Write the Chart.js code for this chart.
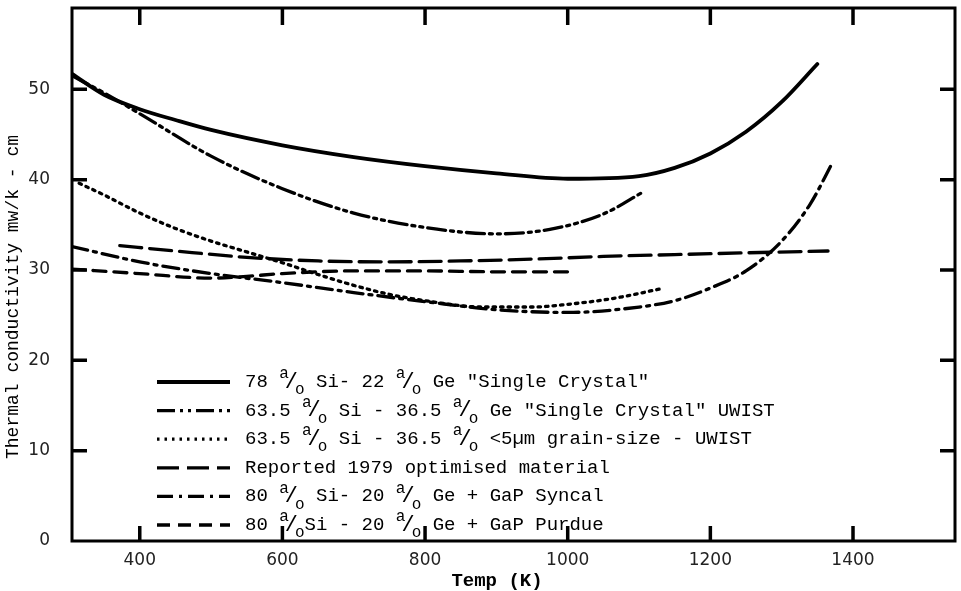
<!DOCTYPE html>
<html>
<head>
<meta charset="utf-8">
<script src="https://cdn.jsdelivr.net/npm/chart.js@4.4.0/dist/chart.umd.min.js"></script>
<style>
  html, body { margin: 0; padding: 0; background: #fff; }
</style>
</head>
<body>
<canvas id="kondChart" width="961" height="591"></canvas>
<script>
// tick labels
const xTicks = [400, 600, 800, 1000, 1200, 1400];
const yTicks = [0, 10, 20, 30, 40, 50];

const xTitle = 'Temp (K)';
const yTitle = 'Thermal conductivity mw/k - cm';

const seriesNames = [
    '78 ᵃ/ₒ Si- 22 ᵃ/ₒ Ge "Single Crystal"',
    '63.5 ᵃ/ₒ Si - 36.5 ᵃ/ₒ Ge "Single Crystal" UWIST',
    '63.5 ᵃ/ₒ Si - 36.5 ᵃ/ₒ <5µm grain-size - UWIST',
    'Reported 1979 optimised material',
    '80 ᵃ/ₒ Si- 20 ᵃ/ₒ Ge + GaP Syncal',
    '80 ᵃ/ₒSi - 20 ᵃ/ₒ Ge + GaP Purdue'
];

// Temp (K) and thermal conductivity (mW/K-cm)
const tempSC78 = [305, 350, 400, 450, 500, 600, 700, 800, 900, 1000, 1100, 1150, 1200, 1250, 1300, 1350];
const kSC78 = [51.7, 49.4, 47.8, 46.6, 45.5, 43.8, 42.5, 41.5, 40.7, 40.1, 40.4, 41.3, 42.9, 45.3, 48.6, 52.8];

const tempSC635 = [305, 350, 400, 500, 600, 700, 800, 900, 975, 1050, 1105];
const kSC635 = [51.5, 49.6, 47.3, 42.6, 39.0, 36.3, 34.7, 34.0, 34.5, 36.2, 38.6];

const tempGrain = [315, 350, 400, 450, 500, 550, 600, 650, 700, 750, 800, 880, 950, 1000, 1060, 1130];
const kGrain = [39.6, 38.3, 36.3, 34.6, 33.2, 32.0, 30.8, 29.5, 28.3, 27.3, 26.6, 25.9, 25.9, 26.2, 26.8, 27.9];

const tempRep1979 = [372, 450, 550, 650, 750, 850, 950, 1050, 1150, 1250, 1365];
const kRep1979 = [32.7, 32.1, 31.4, 31.0, 30.9, 31.0, 31.2, 31.5, 31.7, 31.9, 32.1];

const tempSyncal = [305, 400, 500, 600, 700, 800, 900, 1000, 1100, 1150, 1200, 1250, 1300, 1340, 1372];
const kSyncal = [32.6, 30.9, 29.6, 28.6, 27.5, 26.5, 25.6, 25.3, 25.9, 26.6, 28.0, 29.9, 33.2, 37.3, 42.0];

const tempPurdue = [305, 400, 500, 550, 600, 700, 800, 900, 1007];
const kPurdue = [30.1, 29.6, 29.1, 29.3, 29.6, 29.9, 29.9, 29.8, 29.8];

function noktalar(t, k) {
    return t.map((v, i) => ({ x: v, y: k[i] }));
}

const cizgiler = [
    { t: tempSC78, k: kSC78, dash: [], w: 3.8 },
    { t: tempSC635, k: kSC635, dash: [18, 5, 3, 5, 3, 5], w: 3.3 },
    { t: tempGrain, k: kGrain, dash: [2.5, 5], w: 3.3 },
    { t: tempRep1979, k: kRep1979, dash: [22, 8], w: 3.3 },
    { t: tempSyncal, k: kSyncal, dash: [16, 6, 3, 6], w: 3.3 },
    { t: tempPurdue, k: kPurdue, dash: [13, 8], w: 3.3 }
];

const typeFont = '"Liberation Mono", "DejaVu Sans Mono", monospace';
const numFont = '"DejaVu Sans", "Liberation Sans", sans-serif';

// frame + inward tick marks + axis titles
const cerceve = {
    id: 'cerceve',
    afterDatasetsDraw(chart) {
        const { ctx, chartArea: a, scales } = chart;
        const x = scales.x, y = scales.y;
        ctx.save();
        ctx.strokeStyle = '#000';
        ctx.lineWidth = 3;
        ctx.strokeRect(a.left, a.top, a.right - a.left, a.bottom - a.top);
        ctx.lineWidth = 3.5;
        ctx.beginPath();
        xTicks.forEach(v => {
            const px = x.getPixelForValue(v);
            ctx.moveTo(px, a.top); ctx.lineTo(px, a.top + 17);
            ctx.moveTo(px, a.bottom); ctx.lineTo(px, a.bottom - 15);
        });
        yTicks.forEach(v => {
            if (v === 0) return;
            const py = y.getPixelForValue(v);
            ctx.moveTo(a.left, py); ctx.lineTo(a.left + 15, py);
            ctx.moveTo(a.right, py); ctx.lineTo(a.right - 15, py);
        });
        ctx.stroke();

        // axis titles (typewriter style, placed like the original)
        ctx.fillStyle = '#000';
        ctx.textAlign = 'center';
        ctx.textBaseline = 'middle';
        ctx.font = 'bold 19px ' + typeFont;
        ctx.fillText(xTitle, 497, 581);
        ctx.translate(13, 297);
        ctx.rotate(-Math.PI / 2);
        ctx.font = '18px ' + typeFont;
        ctx.fillText(yTitle, 0, 0);
        ctx.restore();
    }
};

// legend inside the plot, a/o drawn as raised a, slash, lowered o
const icLegend = {
    id: 'icLegend',
    afterDraw(chart) {
        const ctx = chart.ctx;
        const x0 = 157, x1 = 230, tx = 245, y0 = 382, gap = 28.6;
        ctx.save();
        chart.data.datasets.forEach((ds, i) => {
            const yy = y0 + i * gap;
            ctx.strokeStyle = '#000';
            ctx.lineWidth = ds.borderWidth;
            ctx.setLineDash(ds.borderDash || []);
            ctx.beginPath();
            ctx.moveTo(x0, yy); ctx.lineTo(x1, yy);
            ctx.stroke();
            ctx.setLineDash([]);

            ctx.fillStyle = '#000';
            ctx.textBaseline = 'middle';
            let cx = tx;
            const parcalar = ds.label.split('ᵃ/ₒ');
            parcalar.forEach((p, j) => {
                ctx.font = '19px ' + typeFont;
                ctx.fillText(p, cx, yy);
                cx += ctx.measureText(p).width;
                if (j < parcalar.length - 1) {
                    ctx.font = '16px ' + typeFont;
                    ctx.fillText('a', cx, yy - 8);
                    cx += ctx.measureText('a').width - 1;
                    ctx.font = '22px ' + typeFont;
                    ctx.fillText('/', cx - 3, yy);
                    cx += ctx.measureText('/').width - 6;
                    ctx.font = '16px ' + typeFont;
                    ctx.fillText('o', cx, yy + 8);
                    cx += ctx.measureText('o').width;
                }
            });
        });
        ctx.restore();
    }
};

new Chart(document.getElementById('kondChart').getContext('2d'), {
    type: 'line',
    data: {
        datasets: cizgiler.map((c, i) => ({
            label: seriesNames[i],
            data: noktalar(c.t, c.k),
            borderColor: '#000',
            borderWidth: c.w,
            borderDash: c.dash,
            borderCapStyle: 'round',
            pointRadius: 0,
            fill: false,
            cubicInterpolationMode: 'monotone'
        }))
    },
    options: {
        responsive: false,
        animation: false,
        devicePixelRatio: 1,
        layout: { padding: { left: 0, right: 6, top: 8, bottom: 0 } },
        plugins: { legend: { display: false }, tooltip: { enabled: false } },
        scales: {
            x: {
                type: 'linear',
                min: 305,
                max: 1543,
                grid: { display: false, drawTicks: false },
                border: { display: false },
                afterFit: s => { s.height = 50; s.paddingLeft = 0; s.paddingRight = 0; },
                afterBuildTicks: s => { s.ticks = xTicks.map(v => ({ value: v })); },
                ticks: { color: '#222', padding: 9, font: { family: numFont, size: 17 }, callback: v => String(v) },
                title: { display: false, text: xTitle }
            },
            y: {
                min: 0,
                max: 59,
                grid: { display: false, drawTicks: false },
                border: { display: false },
                afterFit: s => { s.width = 72; s.paddingTop = 0; s.paddingBottom = 0; },
                afterBuildTicks: s => { s.ticks = yTicks.map(v => ({ value: v })); },
                ticks: { color: '#222', padding: 22, font: { family: numFont, size: 17 }, callback: v => String(v) },
                title: { display: false, text: yTitle }
            }
        }
    },
    plugins: [cerceve, icLegend]
});
</script>
</body>
</html>
